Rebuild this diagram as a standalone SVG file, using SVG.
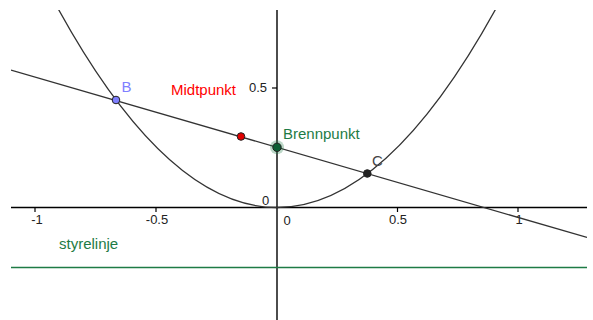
<svg xmlns="http://www.w3.org/2000/svg" width="593" height="320" viewBox="0 0 593 320">
<style>
.ax{stroke:#000;stroke-width:1.4;fill:none}
.tk{stroke:#000;stroke-width:1.2}
.tl{font-family:"Liberation Sans",Arial,sans-serif;font-size:13px;fill:#222;text-anchor:middle}
.lb{font-family:"Liberation Sans",Arial,sans-serif;font-size:15px}
.cv{stroke:#333;stroke-width:1.3;fill:none}
.pt{stroke:#222;stroke-width:1}
</style>
<defs>
<clipPath id="view"><rect x="11" y="10" width="576" height="310"/></clipPath>
</defs>
<rect width="593" height="320" fill="#fff"/>
<g id="axes">
<line class="ax" x1="11" y1="207.5" x2="587" y2="207.5"/>
<line class="ax" x1="277" y1="10" x2="277" y2="320"/>
<line class="tk" x1="35" y1="207.5" x2="35" y2="212"/>
<line class="tk" x1="156" y1="207.5" x2="156" y2="212"/>
<line class="tk" x1="397.5" y1="207.5" x2="397.5" y2="212"/>
<line class="tk" x1="518" y1="207.5" x2="518" y2="212"/>
<line class="tk" x1="272" y1="88" x2="277" y2="88"/>
<text class="tl" x="37" y="224">-1</text>
<text class="tl" x="157" y="224">-0.5</text>
<text class="tl" x="398" y="224">0.5</text>
<text class="tl" x="519" y="224">1</text>
<text class="tl" x="287" y="225">0</text>
<text class="tl" x="265.5" y="205">0</text>
<text class="tl" x="258" y="92">0.5</text>
</g>
<g id="curves" clip-path="url(#view)">
<path id="parabola" class="cv" d="M50 -6.3 Q277 421.3 504 -6.3"/>
<line id="chord" class="cv" x1="11" y1="70" x2="587" y2="237.5"/>
<line id="styrelinje-line" x1="11" y1="267.5" x2="587" y2="267.5" stroke="#1e7b45" stroke-width="1.5"/>
</g>
<g id="styrelinje">
<text class="lb" x="59" y="249" fill="#1e7b45">styrelinje</text>
</g>
<g id="B">
<circle class="pt" cx="116" cy="100" r="3.8" fill="#7f7fff"/>
<text class="lb" x="121.5" y="92" fill="#7f7fff">B</text>
</g>
<g id="Midtpunkt">
<circle class="pt" cx="241" cy="136.5" r="3.8" fill="#e00000"/>
<text class="lb" x="171" y="94.5" fill="#ff0000">Midtpunkt</text>
</g>
<g id="Brennpunkt">
<circle cx="277" cy="147.3" r="7" fill="#1e7b45" fill-opacity="0.3"/>
<circle class="pt" cx="277" cy="147.3" r="4.2" fill="#0b5e33"/>
<text class="lb" x="283" y="139" fill="#1e7b45">Brennpunkt</text>
</g>
<g id="C">
<circle class="pt" cx="367.3" cy="173.5" r="3.8" fill="#222"/>
<text class="lb" x="372" y="165.5" fill="#444">C</text>
</g>
</svg>
